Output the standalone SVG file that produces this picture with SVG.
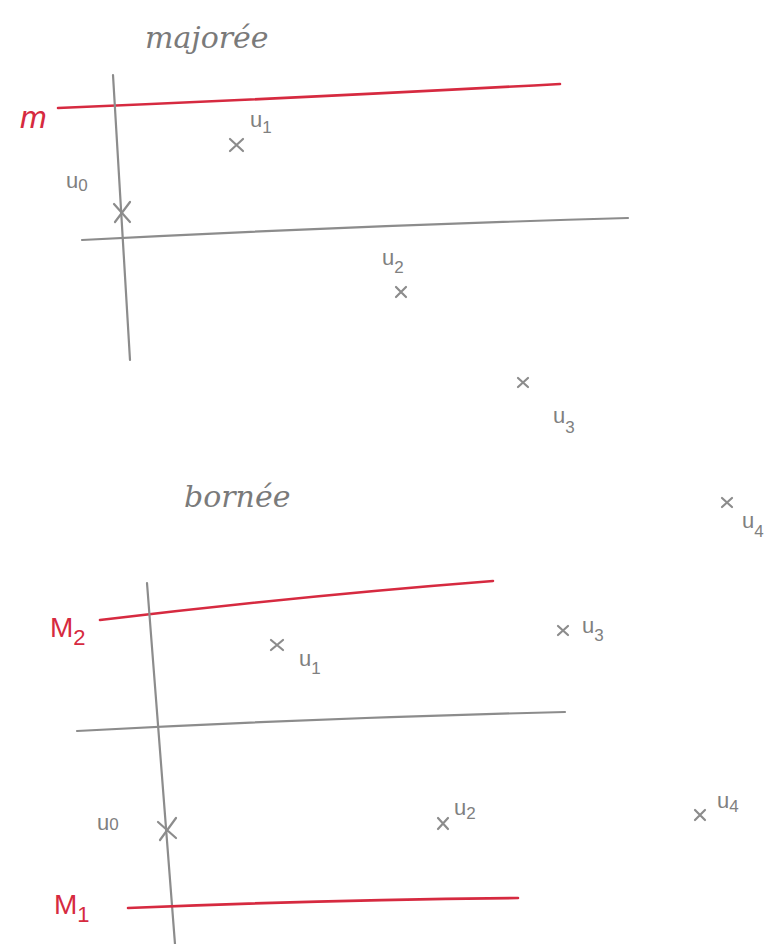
<svg xmlns="http://www.w3.org/2000/svg" width="774" height="944" viewBox="0 0 774 944">
<style>
.g{stroke:#8c8c8c;stroke-width:2.2;fill:none;stroke-linecap:round}
.r{stroke:#d62a40;stroke-width:2.6;fill:none;stroke-linecap:round}
.t{font-family:"DejaVu Serif","Liberation Serif",serif;font-style:italic;fill:#7a7a7a}
.tr{font-family:"Liberation Sans",sans-serif;fill:#d62a40}
.lb{font-family:"Liberation Sans",sans-serif;fill:#808080;font-size:22px}
.s{font-size:17px}
</style>
<rect width="774" height="944" fill="#ffffff"/>
<g id="top">
<text class="t" x="145" y="48" font-size="30">majorée</text>
<path class="r" d="M58 108 Q300 98 560 84"/>
<text class="tr" x="20" y="128" font-size="32" font-style="italic">m</text>
<path class="g" d="M113 75 L130 360"/>
<path class="g" d="M82 240 Q350 226 628 218"/>
<path class="g" d="M114 204 L130 222 M130 202 L115 222"/>
<text class="lb" x="66" y="188">u<tspan class="s" dy="3">0</tspan></text>
<path class="g" d="M230 139 L243 151 M243 139 L230 151"/>
<text class="lb" x="250" y="127">u<tspan class="s" dy="6">1</tspan></text>
<text class="lb" x="382" y="265">u<tspan class="s" dy="8">2</tspan></text>
<path class="g" d="M396 287 L406 297 M406 287 L396 297"/>
<path class="g" d="M518 378 L528 387 M528 378 L518 387"/>
<text class="lb" x="553" y="423">u<tspan class="s" dy="10">3</tspan></text>
</g>
<g id="bottom">
<text class="t" x="184" y="507" font-size="30">bornée</text>
<path class="g" d="M722 498 L732 507 M732 498 L722 507"/>
<text class="lb" x="742" y="528">u<tspan class="s" dy="9">4</tspan></text>
<path class="r" d="M100 620 Q300 596 493 581"/>
<text class="tr" x="50" y="637" font-size="28">M<tspan font-size="22" dy="8">2</tspan></text>
<path class="g" d="M147 583 L175 944"/>
<path class="g" d="M77 731 Q320 718 565 712"/>
<path class="g" d="M271 640 L283 650 M283 640 L271 650"/>
<text class="lb" x="299" y="666">u<tspan class="s" dy="8">1</tspan></text>
<path class="g" d="M558 626 L568 635 M568 626 L558 635"/>
<text class="lb" x="582" y="633">u<tspan class="s" dy="8">3</tspan></text>
<path class="g" d="M158 822 L176 838 M176 818 L160 840"/>
<text class="lb" x="97" y="830">u<tspan class="s" dy="0">0</tspan></text>
<path class="g" d="M438 818 L448 829 M448 818 L438 829"/>
<text class="lb" x="454" y="815">u<tspan class="s" dy="4">2</tspan></text>
<path class="g" d="M695 810 L705 820 M705 810 L695 820"/>
<text class="lb" x="717" y="808">u<tspan class="s" dy="4">4</tspan></text>
<path class="r" d="M128 908 Q320 900 518 898"/>
<text class="tr" x="54" y="914" font-size="28">M<tspan font-size="22" dy="8">1</tspan></text>
</g>
</svg>
